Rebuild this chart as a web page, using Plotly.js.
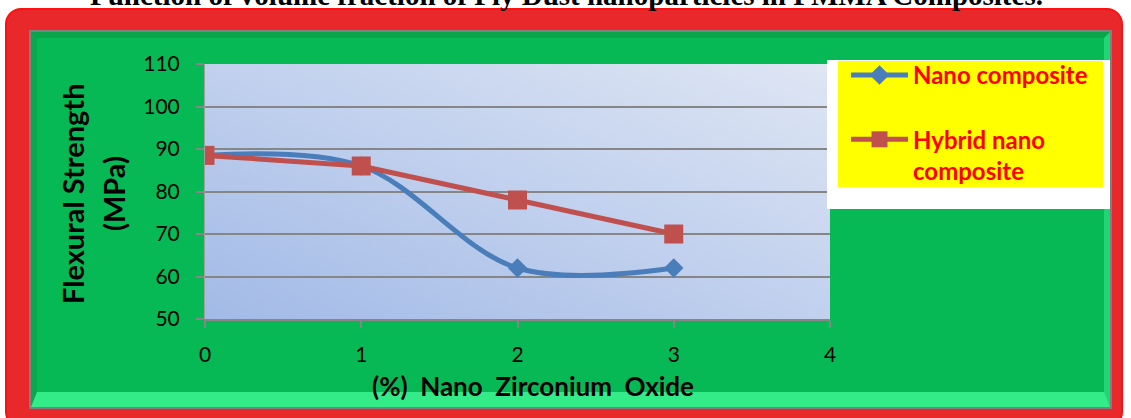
<!DOCTYPE html>
<html>
<head>
<meta charset="utf-8">
<script src="https://cdn.plot.ly/plotly-3.0.1.min.js"></script>
<style>
  html, body { margin: 0; padding: 0; background: #ffffff; width: 1131px; height: 418px; overflow: hidden; }
  #redframe { position: absolute; left: 5px; top: 8px; width: 1118px; height: 420px;
    background: #e8282a; border: 2px solid #ff1010; border-radius: 16px; box-sizing: border-box; }
  #grayframe { position: absolute; left: 29px; top: 30px; width: 1083px; height: 379px;
    background: #7f7f7f; box-sizing: border-box; padding: 2px; }
  #green { width: 100%; height: 100%; box-sizing: border-box; background: #07b955;
    border-top: 6px solid #08a54b; border-left: 6px solid #08a84c;
    border-right: 6px solid #1fd672; border-bottom: 15px solid #33ec88; }
  #chart { position: absolute; left: 0; top: 0; width: 1131px; height: 418px; }
</style>
</head>
<body>
<div id="redframe"></div>
<div id="grayframe"><div id="green"></div></div>
<div id="chart"></div>
<script>
// ---- data ----
const xValues = [0, 1, 2, 3];
const nanoComposite = [88.5, 86, 62, 62];
const hybridNanoComposite = [88.5, 86, 78, 70];
const seriesNames = ["Nano composite", "Hybrid nano<br>composite"];
const xTickVals = [0, 1, 2, 3, 4];
const yTickVals = [50, 60, 70, 80, 90, 100, 110];
const titleText = "Function of volume fraction of Fly Dust nanoparticles in PMMA Composites.";
const yTitleLines = ["Flexural Strength", "(MPa)"];
const xTitleText = "(%)\u00a0\u00a0Nano\u00a0\u00a0Zirconium\u00a0\u00a0Oxide";

// ---- geometry helpers (pixel -> paper) ----
const W = 1131, H = 418;
const PL = 205, PR = 830, PT = 64, PB = 319;
const px = v => (v - PL) / (PR - PL);
const py = v => (PB - v) / (PB - PT);

const gradSvg = '<svg xmlns="http://www.w3.org/2000/svg" width="625" height="255" preserveAspectRatio="none">' +
  '<defs><linearGradient id="g" x1="0" y1="1" x2="1" y2="0">' +
  '<stop offset="0" stop-color="#a2bae7"/><stop offset="1" stop-color="#dfe6f4"/></linearGradient></defs>' +
  '<rect width="625" height="255" fill="url(#g)"/></svg>';

const traces = [
  {
    x: xValues, y: nanoComposite, name: seriesNames[0], legendgroup: "a",
    type: "scatter", mode: "lines+markers",
    line: { color: "#4a7ebb", width: 5, shape: "spline", smoothing: 1 },
    marker: { symbol: "diamond", size: 15, color: "#4a7ebb" }
  },
  {
    x: xValues, y: hybridNanoComposite, name: seriesNames[1], legendgroup: "b",
    type: "scatter", mode: "lines+markers",
    line: { color: "#c0504d", width: 5 },
    marker: { symbol: "square", size: 19, color: "#c0504d" }
  }
];

const font = "Lato, 'Open Sans', sans-serif";

const layout = {
  width: W, height: H,
  margin: { l: PL, r: W - PR, t: PT, b: H - PB, pad: 0 },
  paper_bgcolor: "rgba(0,0,0,0)",
  plot_bgcolor: "rgba(0,0,0,0)",
  showlegend: true,
  xaxis: {
    range: [0, 4], tickvals: xTickVals, ticktext: xTickVals.map(String),
    showgrid: false, zeroline: false,
    showline: true, linecolor: "#868686", linewidth: 2,
    ticks: "outside", ticklen: 7, tickcolor: "#868686", tickwidth: 2,
    ticklabelstandoff: 9,
    tickfont: { family: font, size: 21, color: "#000000" }
  },
  yaxis: {
    range: [50, 110], tickvals: yTickVals, ticktext: yTickVals.map(String),
    showgrid: true, gridcolor: "#868686", gridwidth: 2, zeroline: false,
    showline: true, linecolor: "#a0a0a0", linewidth: 1,
    ticks: "outside", ticklen: 8, tickcolor: "#868686", tickwidth: 2,
    ticklabelstandoff: 12,
    tickfont: { family: font, size: 21, color: "#000000" }
  },
  legend: {
    x: px(846), y: py(53), xanchor: "left", yanchor: "top",
    bgcolor: "rgba(0,0,0,0)", borderwidth: 0,
    traceorder: "grouped", tracegroupgap: 30, valign: "top",
    itemwidth: 57,
    font: { family: font, size: 24, color: "#ff0000", weight: "bold" }
  },
  images: [{
    source: "data:image/svg+xml;charset=utf-8," + encodeURIComponent(gradSvg),
    xref: "paper", yref: "paper", x: 0, y: 1, sizex: 1, sizey: 1,
    xanchor: "left", yanchor: "top", sizing: "stretch", layer: "below"
  }],
  shapes: [
    { type: "rect", xref: "paper", yref: "paper", x0: px(827), x1: px(1110), y0: py(209), y1: py(60),
      fillcolor: "#ffffff", line: { width: 0 }, layer: "above" },
    { type: "rect", xref: "paper", yref: "paper", x0: px(838), x1: px(1103), y0: py(187), y1: py(61),
      fillcolor: "#ffff00", line: { width: 0 }, layer: "above" }
  ],
  annotations: [
    { text: titleText, xref: "paper", yref: "paper", x: px(566), y: py(-5), xanchor: "center", yanchor: "middle",
      showarrow: false, font: { family: "'Liberation Serif', 'Times New Roman', serif", size: 29, color: "#000", weight: "bold" } },
    { text: yTitleLines[0], xref: "paper", yref: "paper", x: px(72), y: py(194), xanchor: "center", yanchor: "middle",
      textangle: -90, showarrow: false, font: { family: font, size: 29, color: "#000", weight: "bold" } },
    { text: yTitleLines[1], xref: "paper", yref: "paper", x: px(113), y: py(194), xanchor: "center", yanchor: "middle",
      textangle: -90, showarrow: false, font: { family: font, size: 29, color: "#000", weight: "bold" } },
    { text: xTitleText, xref: "paper", yref: "paper", x: px(533), y: py(386), xanchor: "center", yanchor: "middle",
      showarrow: false, font: { family: font, size: 26, color: "#000", weight: "bold" } }
  ]
};

Plotly.newPlot("chart", traces, layout, { staticPlot: true, displayModeBar: false });
</script>
</body>
</html>
